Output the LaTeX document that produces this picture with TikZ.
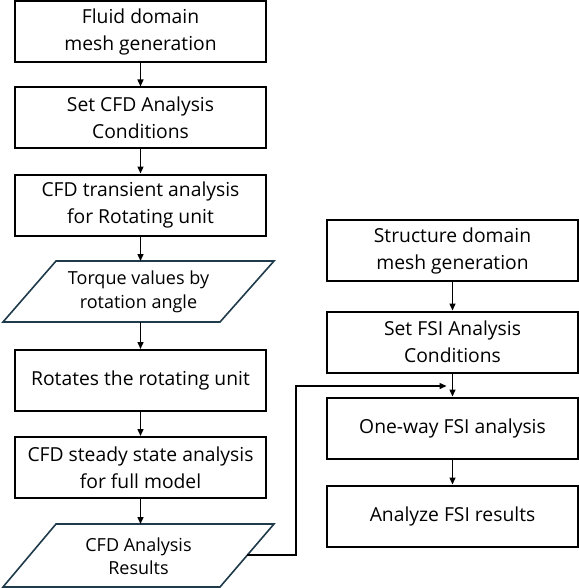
\documentclass[tikz,border=0pt]{standalone}
\usepackage{fontspec}
\setmainfont{Open Sans}
\usetikzlibrary{arrows.meta}
\definecolor{paraedge}{HTML}{1F3A4A}
\begin{document}
\begin{tikzpicture}[x=1pt,y=-1pt,
  box/.style={draw=black,line width=2pt,minimum width=251pt,minimum height=61pt,align=center,font=\fontsize{19.3}{27}\selectfont,inner sep=0pt},
  ptext/.style={align=center,font=\fontsize{18}{23.5}\selectfont,inner sep=0pt},
  para/.style={draw=paraedge,line width=1.6pt,line join=miter},
  arr/.style={draw=black,line width=1.4pt,-{Triangle[length=7pt,width=6pt]}}]
\useasboundingbox (0,0) rectangle (578,588);
% left column
\node[box] (b1) at (140.5,32) {Fluid domain\\mesh generation};
\node[box] (b2) at (140.5,118) {Set CFD Analysis\\Conditions};
\node[box] (b3) at (140.5,205) {CFD transient analysis\\for Rotating unit};
\draw[para] (56,261) -- (274,261) -- (220,322) -- (3,322) -- cycle;
\node[ptext] (p1) at (138.5,292) {Torque values by\\rotation angle};
\coordinate (p1t) at (140.5,261);
\coordinate (p1b) at (140.5,322);
\node[box] (b4) at (140.5,380.5) {Rotates the rotating unit};
\node[box] (b5) at (140.5,467.5) {CFD steady state analysis\\for full model};
\draw[para] (56,524) -- (274,524) -- (220,587) -- (3,587) -- cycle;
\node[ptext] (p2) at (138.5,556) {CFD Analysis\\Results};
\coordinate (p2t) at (140.5,524);
\coordinate (p2r) at (247,555);
% right column
\node[box] (r1) at (452.5,250.5) {Structure domain\\mesh generation};
\node[box] (r2) at (452.5,342) {Set FSI Analysis\\Conditions};
\node[box] (r3) at (452.5,428) {One-way FSI analysis};
\node[box] (r4) at (452.5,516) {Analyze FSI results};
\coordinate (j) at (452.5,386);
% arrows
\draw[arr] (b1) -- (b2);
\draw[arr] (b2) -- (b3);
\draw[arr] (b3) -- (p1t);
\draw[arr] (p1b) -- (b4);
\draw[arr] (b4) -- (b5);
\draw[arr] (b5) -- (p2t);
\draw[arr] (r1) -- (r2);
\draw[arr] (r2) -- (r3);
\draw[arr] (r3) -- (r4);
\draw[arr] (p2r) -- (296,555) |- ([xshift=-6pt]j);
\end{tikzpicture}
\end{document}
